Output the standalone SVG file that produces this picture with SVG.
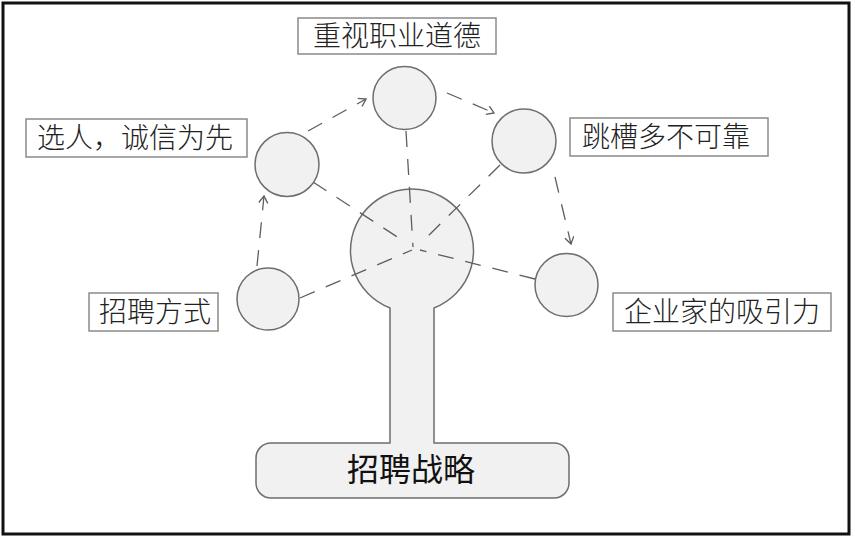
<svg xmlns="http://www.w3.org/2000/svg" width="855" height="537" viewBox="0 0 855 537">
<style>
.lbl{fill:#fff;stroke:#8a8a8a;stroke-width:1.5}
.lt{font-family:"Noto Sans CJK SC","Noto Sans",sans-serif;font-size:28px;fill:#222;text-anchor:middle;font-weight:300}
.node{fill:#f1f1f1;stroke:#6e6e6e;stroke-width:1.5}
.dash{fill:none;stroke:#5e5e5e;stroke-width:1.3;stroke-dasharray:16 12}
</style>
<defs>
<marker id="arr" markerUnits="userSpaceOnUse" markerWidth="12" markerHeight="12" refX="8" refY="5" orient="auto">
<path d="M1,0.5 L8,5 L1,9.5" fill="none" stroke="#5e5e5e" stroke-width="1.3"/>
</marker>
</defs>
<rect x="3" y="3" width="846" height="531" fill="#fff" stroke="#111" stroke-width="3"/>

<g id="strategy">
<path class="node" d="M390,308 A61.5,61.5 0 1 1 434,308 L434,443 L554,443 A15,15 0 0 1 569,458 L569,483 A15,15 0 0 1 554,498 L271,498 A15,15 0 0 1 256,483 L256,458 A15,15 0 0 1 271,443 L390,443 Z"/>
<text x="411" y="481" style="font-family:'Noto Sans CJK SC','Noto Sans',sans-serif;font-size:32px;fill:#111;text-anchor:middle">招聘战略</text>
</g>

<g id="connectors">
<line class="dash" x1="257" y1="266" x2="264" y2="196" marker-end="url(#arr)"/>
<line class="dash" x1="308" y1="131" x2="366" y2="99" marker-end="url(#arr)"/>
<line class="dash" x1="447" y1="93" x2="494" y2="113" marker-end="url(#arr)"/>
<line class="dash" x1="555" y1="177" x2="571" y2="244" marker-end="url(#arr)"/>
<line class="dash" x1="406" y1="131" x2="413" y2="247"/>
<line class="dash" x1="313" y1="182" x2="405" y2="242"/>
<line class="dash" x1="500" y1="165" x2="422" y2="242"/>
<line class="dash" x1="300" y1="298" x2="412" y2="250"/>
<line class="dash" x1="535" y1="279" x2="420" y2="250"/>
</g>

<g id="n-top">
<circle class="node" cx="404.5" cy="98" r="31.5"/>
<rect class="lbl" x="298" y="18" width="198" height="36"/>
<text class="lt" x="397" y="46">重视职业道德</text>
</g>

<g id="n-left">
<circle class="node" cx="287" cy="164.5" r="32"/>
<rect class="lbl" x="26" y="119" width="221" height="38"/>
<text class="lt" x="135" y="148">选人，诚信为先</text>
</g>

<g id="n-right">
<circle class="node" cx="524" cy="141" r="32"/>
<rect class="lbl" x="570" y="118" width="198" height="38"/>
<text class="lt" x="666" y="147">跳槽多不可靠</text>
</g>

<g id="n-bl">
<circle class="node" cx="268" cy="299" r="31"/>
<rect class="lbl" x="89" y="293" width="129" height="38"/>
<text class="lt" x="155" y="322">招聘方式</text>
</g>

<g id="n-br">
<circle class="node" cx="566.5" cy="285" r="31.5"/>
<rect class="lbl" x="613" y="293" width="218" height="38"/>
<text class="lt" x="722" y="322">企业家的吸引力</text>
</g>
</svg>
